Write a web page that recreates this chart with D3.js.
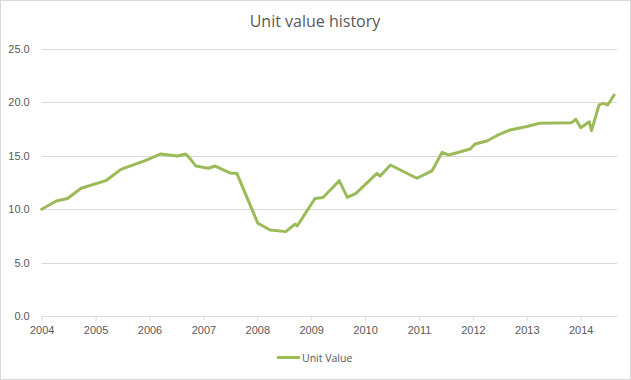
<!DOCTYPE html>
<html>
<head>
<meta charset="utf-8">
<script src="https://cdn.jsdelivr.net/npm/d3@7/dist/d3.min.js"></script>
<style>
  html, body { margin: 0; padding: 0; background: #fff; }
  svg { display: block; font-family: "Open Sans", "Liberation Sans", sans-serif; }
</style>
</head>
<body>
<svg id="chart" width="631" height="380"></svg>
<script>
// Data (decimal years)
const years = [2004.0, 2004.27, 2004.48, 2004.73, 2005.19, 2005.47, 2005.92, 2006.21, 2006.52, 2006.67, 2006.75, 2006.86, 2007.09, 2007.22, 2007.51, 2007.62, 2008.01, 2008.24, 2008.53, 2008.70, 2008.74, 2009.07, 2009.22, 2009.52, 2009.67, 2009.83, 2010.22, 2010.28, 2010.47, 2010.96, 2011.24, 2011.43, 2011.55, 2011.95, 2012.04, 2012.26, 2012.44, 2012.69, 2013.0, 2013.24, 2013.83, 2013.91, 2014.0, 2014.16, 2014.2, 2014.34, 2014.42, 2014.5, 2014.62];
const unitValues = [10.0, 10.77, 11.0, 11.96, 12.67, 13.73, 14.55, 15.17, 14.98, 15.17, 14.76, 14.04, 13.83, 14.04, 13.36, 13.36, 8.68, 8.05, 7.9, 8.61, 8.43, 11.0, 11.1, 12.67, 11.1, 11.48, 13.36, 13.1, 14.14, 12.9, 13.58, 15.33, 15.07, 15.64, 16.1, 16.39, 16.88, 17.42, 17.75, 18.04, 18.1, 18.42, 17.63, 18.19, 17.35, 19.76, 19.91, 19.76, 20.69];
const xTicks = [2004, 2005, 2006, 2007, 2008, 2009, 2010, 2011, 2012, 2013, 2014];
const yTicks = [0, 5, 10, 15, 20, 25];
const seriesName = "Unit Value";
const title = "Unit value history";

(function () {
const svg = d3.select("#chart");
const W = 631, H = 380;
const mLeft = 41.7, mRight = 617, mTop = 49, mBottom = 316;

svg.append("rect").attr("x", 0.5).attr("y", 0.5).attr("width", W - 1).attr("height", H - 1)
  .attr("fill", "#fff").attr("stroke", "#d9d9d9");

const x = d3.scaleLinear().domain([2004, 2004 + (mRight - mLeft) / 53.9]).range([mLeft, mRight]);
const y = d3.scaleLinear().domain([0, 25]).range([mBottom, mTop]);

// gridlines
svg.append("g").selectAll("line").data(yTicks.filter(d => d > 0)).join("line")
  .attr("x1", mLeft).attr("x2", mRight)
  .attr("y1", d => Math.round(y(d)) + 0.5).attr("y2", d => Math.round(y(d)) + 0.5)
  .attr("stroke", "#d9d9d9").attr("stroke-width", 1);

// y axis labels
const yAxis = d3.axisLeft(y).tickValues(yTicks).tickFormat(d3.format(".1f")).tickSize(0).tickPadding(12);
const gy = svg.append("g").attr("transform", `translate(${mLeft},0)`).call(yAxis);
gy.select(".domain").remove();
gy.selectAll("text").attr("fill", "#595959").style("font-size", "11px");

// x axis
const xAxis = d3.axisBottom(x).tickValues(xTicks).tickFormat(d3.format("d")).tickSize(4).tickPadding(6);
const gx = svg.append("g").attr("transform", `translate(0,${Math.round(mBottom) + 0.5})`).call(xAxis);
gx.select(".domain").attr("stroke", "#d9d9d9").attr("d", `M${mLeft},0H${mRight}`);
gx.selectAll(".tick line").attr("stroke", "#d9d9d9");
gx.selectAll("text").attr("fill", "#595959").style("font-size", "11px");

// line
const data = years.map((yr, i) => ({ x: yr, v: unitValues[i] }));
svg.append("path").datum(data)
  .attr("fill", "none").attr("stroke", "#9bbb59").attr("stroke-width", 3)
  .attr("stroke-linejoin", "round").attr("stroke-linecap", "round")
  .attr("d", d3.line().x(d => x(d.x)).y(d => y(d.v)));

// title
svg.append("text").attr("x", 315).attr("y", 27).attr("text-anchor", "middle")
  .attr("fill", "#595959").style("font-size", "16px").text(title);

// legend
svg.append("line").attr("x1", 277).attr("x2", 300).attr("y1", 357.5).attr("y2", 357.5)
  .attr("stroke", "#9bbb59").attr("stroke-width", 3);
svg.append("text").attr("x", 302).attr("y", 361.5).attr("fill", "#595959")
  .style("font-size", "10.5px").text(seriesName);
})();
</script>
</body>
</html>
